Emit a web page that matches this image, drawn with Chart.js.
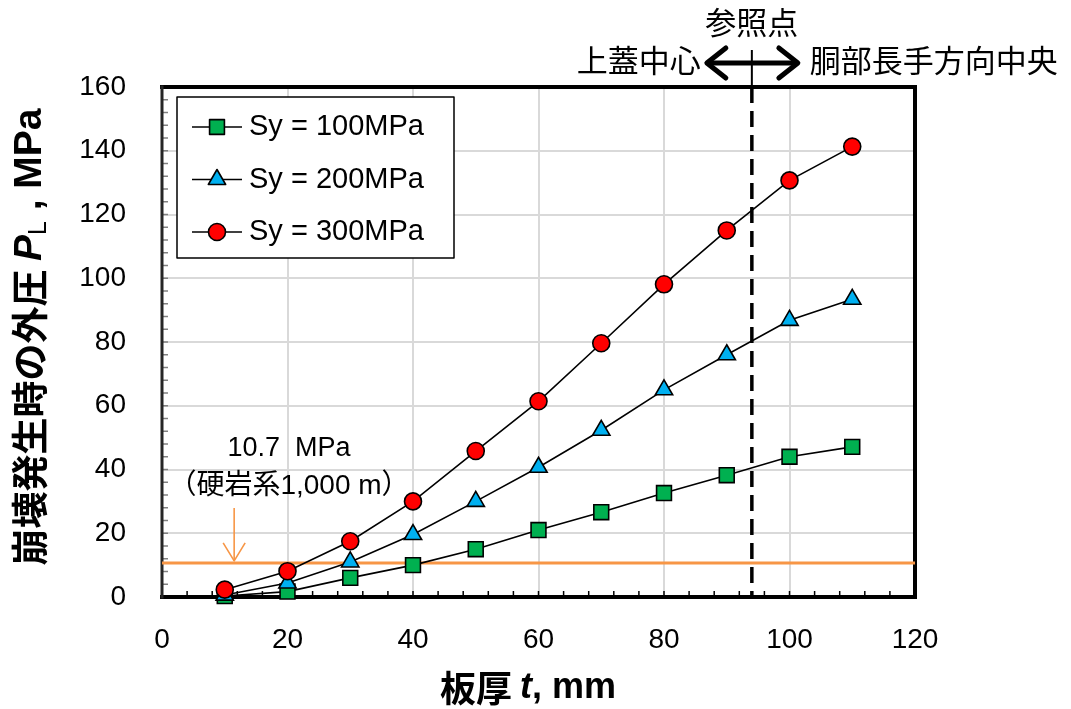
<!DOCTYPE html>
<html>
<head>
<meta charset="utf-8">
<script src="https://cdn.jsdelivr.net/npm/chart.js@4.4.1/dist/chart.umd.min.js"></script>
<style>
  html, body { margin: 0; padding: 0; background: #fff; }
  #wrap { width: 1071px; height: 709px; }
</style>
</head>
<body>
<div id="wrap"><canvas id="chart" width="1071" height="709"></canvas></div>
<script>
// 板厚 t [mm]
const thickness = [10, 20, 30, 40, 50, 60, 70, 80, 90, 100, 110];
// 崩壊発生時の外圧 PL [MPa]
const sy100 = [0.3, 1.7, 6.0, 10.0, 15.0, 21.0, 26.6, 32.6, 38.2, 44.0, 47.1];
const sy200 = [0.6, 4.4, 11.0, 19.6, 30.0, 40.7, 52.3, 65.0, 76.0, 86.8, 93.4];
const sy300 = [2.3, 8.1, 17.5, 30.0, 45.8, 61.4, 79.6, 98.1, 115.0, 130.7, 141.3];
const seriesLabels = ['Sy = 100MPa', 'Sy = 200MPa', 'Sy = 300MPa'];

const xMin = 0, xMax = 120, xStep = 20;
const yMin = 0, yMax = 160, yStep = 20;
const minorStep = 4;

// 硬岩系 1,000 m の外圧と参照点位置
const hardRockPressure = 10.7;
const hardRockLabel = ['10.7  MPa', '（硬岩系1,000 m）'];
const refPointT = 94;
const refLabels = { top: '参照点', left: '上蓋中心', right: '胴部長手方向中央' };

const LATIN = '"Liberation Sans", Arial, "Noto Sans CJK JP", sans-serif';
const CJK = '"Noto Sans CJK JP", sans-serif';
const ORANGE = '#f79646';

function pts(ys) {
  return thickness.map((t, i) => ({ x: t, y: ys[i] }));
}

const markerStyles = [
  { pointStyle: 'rect', pointRadius: 10.5, pointBackgroundColor: '#00b050' },
  { pointStyle: 'triangle', pointRadius: 10, pointBackgroundColor: '#00b0f0' },
  { pointStyle: 'circle', pointRadius: 8.5, pointBackgroundColor: '#ff0000' }
];

const datasets = [sy100, sy200, sy300].map((ys, i) => ({
  label: seriesLabels[i],
  data: pts(ys),
  borderColor: '#000',
  borderWidth: 1.6,
  pointBorderColor: '#000',
  pointBorderWidth: 1.6,
  ...markerStyles[i],
  tension: 0,
  clip: false,
  order: 3 - i
}));

datasets.push({
  label: 'hardRock',
  data: [{ x: xMin, y: hardRockPressure }, { x: xMax, y: hardRockPressure }],
  borderColor: ORANGE,
  borderWidth: 3,
  pointRadius: 0,
  order: 10
});

function line(ctx, x1, y1, x2, y2) {
  ctx.beginPath();
  ctx.moveTo(x1, y1);
  ctx.lineTo(x2, y2);
  ctx.stroke();
}

// 書式の異なる文字列片を横に並べて描く（中央揃え）
function drawRuns(ctx, runs, cx, cy) {
  let total = 0;
  runs.forEach(r => { ctx.font = r.font; r.w = ctx.measureText(r.text).width; total += r.w; });
  let x = cx - total / 2;
  ctx.textAlign = 'left';
  ctx.textBaseline = 'middle';
  runs.forEach(r => {
    ctx.font = r.font;
    ctx.fillText(r.text, x, cy + (r.dy || 0));
    x += r.w;
  });
}

const decor = {
  id: 'decor',
  beforeDatasetsDraw(chart) {
    const { ctx, chartArea: a, scales: { x, y } } = chart;
    ctx.save();
    // 内向きの補助目盛
    ctx.lineWidth = 1.5;
    ctx.strokeStyle = '#000';
    for (let v = xMin; v <= xMax; v += minorStep) {
      const px = x.getPixelForValue(v);
      line(ctx, px, a.bottom, px, a.bottom - 6);
    }
    ctx.strokeStyle = '#808080';
    for (let v = yMin; v <= yMax; v += minorStep) {
      const py = y.getPixelForValue(v);
      line(ctx, a.left, py, a.left + 6, py);
    }
    // 枠線
    ctx.lineCap = 'square';
    ctx.strokeStyle = '#000';
    ctx.lineWidth = 4;
    line(ctx, a.left, a.top, a.right, a.top);
    line(ctx, a.right, a.top, a.right, a.bottom);
    line(ctx, a.left, a.bottom, a.right, a.bottom);
    ctx.strokeStyle = '#262626';
    ctx.lineWidth = 3;
    line(ctx, a.left, a.top, a.left, a.bottom);
    ctx.restore();
  },
  afterDatasetsDraw(chart) {
    const { ctx, chartArea: a, scales: { x, y } } = chart;
    ctx.save();

    // 参照点の破線
    const rx = x.getPixelForValue(refPointT);
    ctx.strokeStyle = '#000';
    ctx.lineWidth = 2;
    line(ctx, rx, 50, rx, a.top);
    ctx.lineWidth = 3.5;
    ctx.setLineDash([16, 8]);
    line(ctx, rx, a.top, rx, a.bottom);
    ctx.setLineDash([]);

    // 両矢印
    const ay = 63, lx = rx - 45, rxe = rx + 46;
    ctx.lineWidth = 5;
    ctx.lineCap = 'round';
    ctx.lineJoin = 'round';
    line(ctx, lx + 3, ay, rxe - 3, ay);
    ctx.beginPath();
    ctx.moveTo(lx + 19, ay - 15); ctx.lineTo(lx, ay); ctx.lineTo(lx + 19, ay + 15);
    ctx.stroke();
    ctx.beginPath();
    ctx.moveTo(rxe - 19, ay - 15); ctx.lineTo(rxe, ay); ctx.lineTo(rxe - 19, ay + 15);
    ctx.stroke();

    ctx.fillStyle = '#000';
    ctx.font = '31px ' + CJK;
    ctx.textBaseline = 'middle';
    ctx.textAlign = 'center';
    ctx.fillText(refLabels.top, rx, 22);
    ctx.textAlign = 'right';
    ctx.fillText(refLabels.left, lx - 6, 60);
    ctx.textAlign = 'left';
    ctx.fillText(refLabels.right, rxe + 12, 60);

    // 10.7 MPa の注記と矢印
    ctx.font = '27px ' + LATIN;
    ctx.textAlign = 'center';
    ctx.fillText(hardRockLabel[0], 289, 449);
    ctx.font = '28px ' + LATIN;
    ctx.fillText(hardRockLabel[1], 289, 486);
    const hx = x.getPixelForValue(11.5), hy = y.getPixelForValue(hardRockPressure);
    ctx.strokeStyle = ORANGE;
    ctx.lineWidth = 1.6;
    ctx.lineCap = 'butt';
    line(ctx, hx, 508, hx, hy - 2);
    ctx.beginPath();
    ctx.moveTo(hx - 11, hy - 20); ctx.lineTo(hx, hy - 2); ctx.lineTo(hx + 11, hy - 20);
    ctx.stroke();

    // 凡例
    const bx = a.left + 15, by = a.top + 10, bw = 277, bh = 161;
    ctx.fillStyle = '#fff';
    ctx.fillRect(bx, by, bw, bh);
    ctx.strokeStyle = '#000';
    ctx.lineWidth = 1.5;
    ctx.strokeRect(bx, by, bw, bh);
    chart.data.datasets.slice(0, 3).forEach((ds, i) => {
      const ey = by + 30 + i * 52.5;
      ctx.strokeStyle = '#000';
      ctx.lineWidth = 1.6;
      line(ctx, bx + 15, ey, bx + 65, ey);
      ctx.fillStyle = ds.pointBackgroundColor;
      Chart.helpers.drawPoint(ctx, {
        pointStyle: ds.pointStyle, radius: ds.pointRadius, borderWidth: 1.6, rotation: 0
      }, bx + 40, ey);
      ctx.fillStyle = '#000';
      ctx.font = '29px ' + LATIN;
      ctx.textAlign = 'left';
      ctx.textBaseline = 'middle';
      ctx.fillText(ds.label, bx + 72, ey);
    });

    // 軸タイトル
    ctx.fillStyle = '#000';
    drawRuns(ctx, [
      { text: '板厚 ', font: 'bold 36px ' + CJK },
      { text: 't', font: 'italic bold 36px ' + LATIN },
      { text: ', mm', font: 'bold 36px ' + LATIN }
    ], 528, 688);

    ctx.translate(30, 337);
    ctx.rotate(-Math.PI / 2);
    drawRuns(ctx, [
      { text: '崩壊発生時の外圧 ', font: 'bold 37px ' + CJK },
      { text: 'P', font: 'italic bold 39px ' + LATIN },
      { text: 'L', font: '25px ' + LATIN, dy: 9 },
      { text: ' , MPa', font: 'bold 39px ' + LATIN }
    ], 0, 0);
    ctx.restore();
  }
};

new Chart(document.getElementById('chart'), {
  type: 'line',
  data: { datasets },
  options: {
    responsive: false,
    animation: false,
    devicePixelRatio: 1,
    layout: { padding: { left: 0, right: 156, top: 87, bottom: 0 } },
    plugins: { legend: { display: false }, tooltip: { enabled: false } },
    scales: {
      x: {
        type: 'linear',
        min: xMin, max: xMax,
        afterFit(scale) { scale.height = 112; },
        ticks: { stepSize: xStep, padding: 26, color: '#000', font: { family: LATIN, size: 28 } },
        grid: {
          drawTicks: false, lineWidth: 2,
          color: c => (c.tick && (c.tick.value === xMin || c.tick.value === xMax)) ? 'rgba(0,0,0,0)' : '#d9d9d9'
        },
        border: { display: false }
      },
      y: {
        type: 'linear',
        min: yMin, max: yMax,
        afterFit(scale) { scale.width = 162; },
        ticks: { stepSize: yStep, padding: 36, color: '#000', font: { family: LATIN, size: 28 } },
        grid: {
          drawTicks: false, lineWidth: 2,
          color: c => (c.tick && (c.tick.value === yMin || c.tick.value === yMax)) ? 'rgba(0,0,0,0)' : '#d9d9d9'
        },
        border: { display: false }
      }
    }
  },
  plugins: [decor]
});
</script>
</body>
</html>
